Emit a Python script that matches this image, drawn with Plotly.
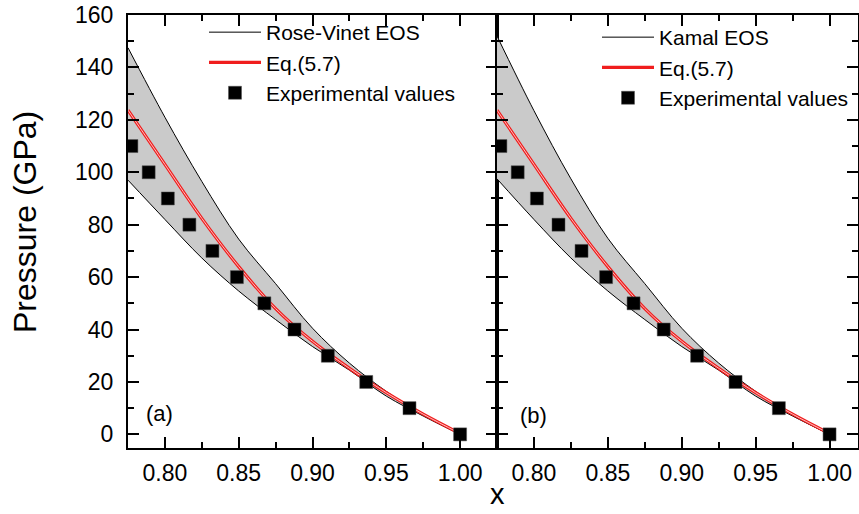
import plotly.graph_objects as go

# ---------------- data ----------------
x_grid = [0.775, 0.80, 0.825, 0.85, 0.875, 0.90, 0.925, 0.95, 0.975, 1.00]

rv_upper = [147.5, 121.0, 96.5, 74.5, 57.5, 40.5, 27.2, 16.4, 7.4, 0.0]
rv_lower = [97.0, 82.0, 67.3, 54.7, 43.8, 33.5, 24.5, 14.6, 7.0, 0.0]

kamal_upper = [152.0, 123.5, 97.5, 74.8, 57.5, 40.5, 27.2, 16.4, 7.4, 0.0]
kamal_lower = [97.5, 82.0, 67.3, 54.7, 43.8, 33.5, 24.5, 14.6, 7.0, 0.0]

eq57 = [123.7, 103.0, 82.4, 64.0, 48.0, 35.5, 25.2, 15.9, 7.7, 0.3]

exp_x = [0.7773, 0.7890, 0.8020, 0.8166, 0.8322, 0.8488, 0.8674, 0.8878, 0.9104, 0.9364, 0.9657, 1.000]
exp_p = [110, 100, 90, 80, 70, 60, 50, 40, 30, 20, 10, 0]

y_ticks = [0, 20, 40, 60, 80, 100, 120, 140, 160]
x_ticks = [0.80, 0.85, 0.90, 0.95, 1.00]

FONT = "Arial, Liberation Sans, sans-serif"
GREY = "rgb(202,202,202)"

fig = go.Figure()


def add_panel(xa, ya, upper, lower, eos_name, legend_id):
    # grey band
    fig.add_trace(go.Scatter(x=x_grid, y=lower, mode="lines", line=dict(width=0, shape="spline"),
                             showlegend=False, hoverinfo="skip", xaxis=xa, yaxis=ya))
    fig.add_trace(go.Scatter(x=x_grid, y=upper, mode="lines", line=dict(width=0, shape="spline"),
                             fill="tonexty", fillcolor=GREY, showlegend=False, hoverinfo="skip",
                             xaxis=xa, yaxis=ya))
    # black EOS bounds
    fig.add_trace(go.Scatter(x=x_grid, y=upper, mode="lines", name=eos_name,
                             line=dict(color="black", width=1, shape="spline"),
                             legend=legend_id, xaxis=xa, yaxis=ya))
    fig.add_trace(go.Scatter(x=x_grid, y=lower, mode="lines", showlegend=False,
                             line=dict(color="black", width=1, shape="spline"),
                             xaxis=xa, yaxis=ya))
    # Eq.(5.7) red double-line look
    fig.add_trace(go.Scatter(x=x_grid, y=eq57, mode="lines", name="Eq.(5.7)",
                             line=dict(color="rgb(240,30,30)", width=3.2, shape="spline"),
                             legend=legend_id, xaxis=xa, yaxis=ya))
    fig.add_trace(go.Scatter(x=x_grid, y=eq57, mode="lines", showlegend=False,
                             line=dict(color="rgb(255,190,190)", width=1, shape="spline"),
                             xaxis=xa, yaxis=ya))
    # experimental values
    fig.add_trace(go.Scatter(x=exp_x, y=exp_p, mode="markers", name="Experimental values",
                             marker=dict(symbol="square", size=13, color="black",
                                         line=dict(width=0.5, color="rgb(80,80,80)")),
                             legend=legend_id, xaxis=xa, yaxis=ya))


add_panel("x", "y", rv_upper, rv_lower, "Rose-Vinet EOS", "legend")
add_panel("x2", "y2", kamal_upper, kamal_lower, "Kamal EOS", "legend2")

# Page body margin is removed by post_script below, so figure pixels = screen pixels.
W, H = 859, 514
AX_L, AX_T, AX_B, AX_R = 128, 15, 448, 858      # axis box in screen pixels
SPLIT_X = 497
L, T, R = AX_L, AX_T, W - AX_R
B = H - AX_B
plot_w = W - L - R
plot_h = H - T - B
split = (SPLIT_X - AX_L) / plot_w


def px(X):
    return (X - AX_L) / plot_w


def py(Y):
    return (AX_B - Y) / plot_h


axis_common = dict(
    showline=True, linecolor="black", linewidth=2,
    ticks="inside", ticklen=11, tickwidth=2, tickcolor="black",
    mirror="ticks", showgrid=False, zeroline=False, automargin=False,
    ticklabeloverflow="allow",
    tickfont=dict(family=FONT, size=23, color="black"),
)

xminor = dict(ticks="inside", ticklen=6, tickwidth=2, tickcolor="black", dtick=0.025, tick0=0.775)
yminor = dict(ticks="inside", ticklen=6, tickwidth=2, tickcolor="black", dtick=10)

legend_common = dict(xanchor="left", yanchor="top", bgcolor="rgba(0,0,0,0)",
                     font=dict(family=FONT, size=21, color="black"),
                     itemwidth=52, tracegroupgap=0, traceorder="normal")

fig.update_layout(
    template="none",
    width=W, height=H,
    margin=dict(l=L, r=R, t=T, b=B, autoexpand=False),
    paper_bgcolor="white", plot_bgcolor="white",
    font=dict(family=FONT, color="black"),
    xaxis=dict(axis_common, domain=[0, split], range=[0.775, 1.025],
               tickvals=x_ticks, tickformat=".2f", minor=xminor, ticklabelstandoff=3),
    xaxis2=dict(axis_common, domain=[split, 1], range=[0.775, 0.775 + (AX_R - SPLIT_X) / 1478],
                tickvals=x_ticks, tickformat=".2f", minor=xminor, ticklabelstandoff=3, anchor="y2"),
    yaxis=dict(axis_common, range=[-5.2, 160], tickvals=y_ticks, minor=yminor,
               ticklabelstandoff=8),
    yaxis2=dict(axis_common, range=[-5.2, 160], tickvals=y_ticks, minor=yminor,
                showticklabels=False, anchor="x2"),
    legend=dict(legend_common, x=px(204), y=py(12)),
    legend2=dict(legend_common, x=px(597), y=py(17)),
    annotations=[
        dict(text="Pressure (GPa)", xref="paper", yref="paper", x=px(25), y=py(222),
             xanchor="center", yanchor="middle", textangle=-90, showarrow=False,
             font=dict(family=FONT, size=32, color="black")),
        dict(text="x", xref="paper", yref="paper", x=split, y=py(494),
             xanchor="center", yanchor="middle", showarrow=False,
             font=dict(family=FONT, size=29, color="black")),
        dict(text="(a)", xref="paper", yref="paper", x=px(159), y=py(413),
             xanchor="center", yanchor="middle", showarrow=False,
             font=dict(family=FONT, size=22, color="black")),
        dict(text="(b)", xref="paper", yref="paper", x=px(533), y=py(415),
             xanchor="center", yanchor="middle", showarrow=False,
             font=dict(family=FONT, size=22, color="black")),
    ],
)

fig.write_html("out.html",
               config={"displayModeBar": False},
               post_script="document.body.style.margin='0';document.body.style.overflow='hidden';")
